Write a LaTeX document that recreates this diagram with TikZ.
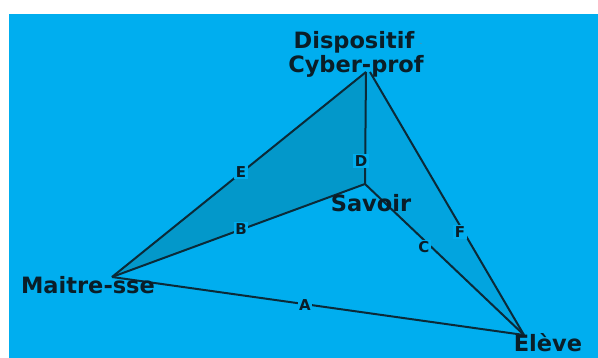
\documentclass[tikz,border=0pt]{standalone}
\usepackage{fontspec}
\setmainfont{DejaVu Sans}
\definecolor{bgc}{HTML}{00AEEF}
\definecolor{darkreg}{HTML}{0398CA}
\definecolor{lightreg}{HTML}{02A4DF}
\definecolor{linec}{HTML}{0B2A38}
\definecolor{txtc}{HTML}{0A1E28}
\tikzset{
  edge/.style={draw=linec, line width=2pt},
  vlabel/.style={font=\fontsize{22.5}{24}\selectfont\bfseries, text=txtc, inner sep=0pt},
  elabel/.style={font=\fontsize{15}{16}\selectfont\bfseries, text=txtc, fill=bgc, inner sep=1.5pt},
}
\begin{document}
\begin{tikzpicture}[x=1pt,y=-1pt]
\useasboundingbox (0,0) rectangle (598,358);
\fill[white] (0,0) rectangle (598,358);
\fill[bgc] (9,14) rectangle (598,358);
% vertices
\coordinate (cyber) at (366,72);
\coordinate (cyberR) at (370,72);
\coordinate (savoir) at (365,184);
\coordinate (maitre) at (112,277);
\coordinate (eleve) at (524,335);
% regions
\fill[darkreg] (cyber) -- (maitre) -- (savoir) -- cycle;
\fill[lightreg] (cyber) -- (savoir) -- (eleve) -- (cyberR) -- cycle;
% edges
\draw[edge] (maitre) -- (eleve);
\draw[edge] (maitre) -- (savoir);
\draw[edge] (maitre) -- (cyber);
\draw[edge] (cyber) -- (savoir);
\draw[edge] (savoir) -- (eleve);
\draw[edge] (cyberR) -- (eleve);
% edge labels
\node[elabel] (lA) at (305,305) {A};
\node[elabel] (lB) at (241,229) {B};
\node[elabel] (lC) at (424,247) {C};
\node[elabel] (lD) at (361,161) {D};
\node[elabel] (lE) at (241,172) {E};
\node[elabel] (lF) at (460,232) {F};
% vertex labels
\node[vlabel] (tdisp) at (354,42) {Dispositif};
\node[text=gray!80!bgc, font=\fontsize{9}{10}\selectfont] (tdot) at (421,44) {.};
\node[vlabel] (tcyber) at (356,66) {Cyber-prof};
\node[vlabel] (tsavoir) at (371,203) {Savoir};
\node[vlabel] (tmaitre) at (88,285) {Maitre-sse};
\node[vlabel] (televe) at (548,343) {Elève};
\end{tikzpicture}
\end{document}
